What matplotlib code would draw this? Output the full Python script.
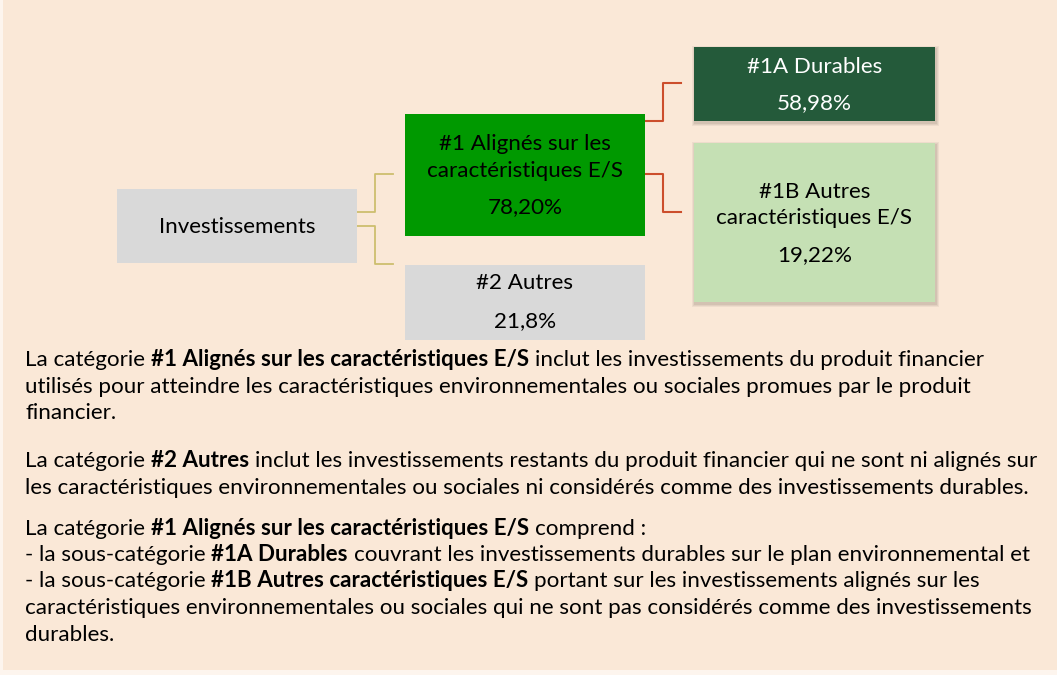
import matplotlib
matplotlib.use("Agg")
import matplotlib.pyplot as plt
from matplotlib.patches import Rectangle

# --- data -------------------------------------------------------------
box_labels = ["Investissements",
              "#1 Alignés sur les\ncaractéristiques E/S",
              "#2 Autres",
              "#1A Durables",
              "#1B Autres\ncaractéristiques E/S"]
box_values = ["", "78,20%", "21,8%", "58,98%", "19,22%"]

# each line = list of (text, bold)
para_lines = [
    [("La catégorie", False), ("#1 Alignés sur les caractéristiques E/S", True),
     ("inclut les investissements du produit financier", False)],
    [("utilisés pour atteindre les caractéristiques environnementales ou sociales promues par le produit", False)],
    [("financier.", False)],
    [("La catégorie", False), ("#2 Autres", True),
     ("inclut les investissements restants du produit financier qui ne sont ni alignés sur", False)],
    [("les caractéristiques environnementales ou sociales ni considérés comme des investissements durables.", False)],
    [("La catégorie", False), ("#1 Alignés sur les caractéristiques E/S", True), ("comprend :", False)],
    [("- la sous-catégorie", False), ("#1A Durables", True),
     ("couvrant les investissements durables sur le plan environnemental et", False)],
    [("- la sous-catégorie", False), ("#1B Autres caractéristiques E/S", True),
     ("portant sur les investissements alignés sur les", False)],
    [("caractéristiques environnementales ou sociales qui ne sont pas considérés comme des investissements", False)],
    [("durables.", False)],
]
para_baselines = [366, 393, 419, 467, 494, 535, 561, 587, 614, 641]

# --- figure -----------------------------------------------------------
W, H = 1057, 675
fig = plt.figure(figsize=(W / 100, H / 100), dpi=100)
fig.patch.set_facecolor("#FDF5EE")
ax = fig.add_axes([0, 0, 1, 1])
ax.set_xlim(0, W)
ax.set_ylim(H, 0)
ax.axis("off")
ax.add_patch(Rectangle((3, 0), W - 3, H - 5, fc="#FAE8D7", ec="none", zorder=0))

FONT = "Lato"
renderer = fig.canvas.get_renderer()


def text_width(s, bold, fs):
    t = ax.text(0, 0, s, fontsize=fs, family=FONT, fontweight="bold" if bold else "normal")
    w = t.get_window_extent(renderer).width
    t.remove()
    return w


# fit paragraph size so the longest line spans like the reference
fs = 14 * 1005 / text_width(para_lines[4][0][0], False, 14)
space = text_width("x x", False, fs) - text_width("xx", False, fs)

# boxes: (x, y, w, h, face, text colour, shadow)
boxes = [
    (117, 189, 240, 74, "#D9D9D9", "black", False),
    (405, 114, 240, 122, "#009900", "black", False),
    (405, 265, 240, 75, "#D9D9D9", "black", False),
    (694, 47, 241, 74, "#245A3A", "white", True),
    (694, 143, 241, 159, "#C5E0B4", "black", True),
]
label_baselines = [[233], [150, 177], [289], [73], [198, 224]]
value_baselines = [None, 213, 327, 109, 261]

for i, (x, y, w, h, fc, tc, shadow) in enumerate(boxes):
    if shadow:
        # soft drop shadow, a few fading layers
        for k, a in enumerate([0.10, 0.12, 0.16]):
            d = 3 - k
            ax.add_patch(Rectangle((x + 1 - d, y + 2 - d), w + 2 * d, h + 2 * d,
                                   fc="#8A7A6C", ec="none", alpha=a, zorder=1))
    ax.add_patch(Rectangle((x, y), w, h, fc=fc, ec="none", zorder=2))
    for line, yb in zip(box_labels[i].split("\n"), label_baselines[i]):
        ax.text(x + w / 2, yb, line, ha="center", va="baseline", fontsize=fs,
                family=FONT, color=tc, zorder=3)
    if box_values[i]:
        ax.text(x + w / 2, value_baselines[i], box_values[i], ha="center", va="baseline",
                fontsize=fs, family=FONT, color=tc, zorder=3)

# connectors
khaki, red = "#CDBE6E", "#CC4E2C"
ax.plot([357, 375, 375, 393], [212, 212, 174, 174], color=khaki, lw=1.3, zorder=1)
ax.plot([357, 375, 375, 393], [226, 226, 264, 264], color=khaki, lw=1.3, zorder=1)
ax.plot([645, 663, 663, 681], [121, 121, 83, 83], color=red, lw=1.5, zorder=1)
ax.plot([645, 663, 663, 681], [174, 174, 212, 212], color=red, lw=1.5, zorder=1)

# paragraphs with bold runs
for segs, yb in zip(para_lines, para_baselines):
    x = 25
    for s, bold in segs:
        t = ax.text(x, yb, s, fontsize=fs, family=FONT, va="baseline", ha="left",
                    fontweight="bold" if bold else "normal", color="black", zorder=3)
        x += t.get_window_extent(renderer).width + space

fig.savefig("out.png", dpi=100, facecolor=fig.get_facecolor())
